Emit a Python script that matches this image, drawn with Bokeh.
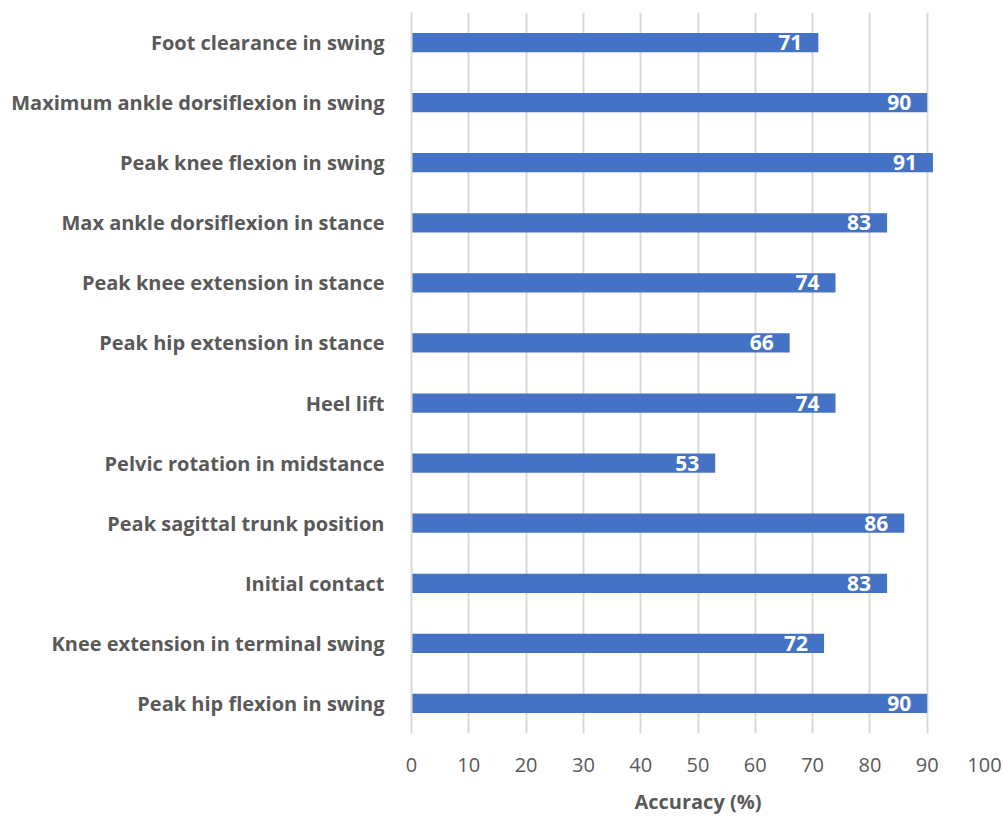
from bokeh.plotting import figure
from bokeh.models import ColumnDataSource, FactorRange, Range1d, SingleIntervalTicker
from bokeh.core.properties import value
from bokeh.embed import file_html
from bokeh.resources import INLINE

categories = [
    "Foot clearance in swing",
    "Maximum ankle dorsiflexion in swing",
    "Peak knee flexion in swing",
    "Max ankle dorsiflexion in stance",
    "Peak knee extension in stance",
    "Peak hip extension in stance",
    "Heel lift",
    "Pelvic rotation in midstance",
    "Peak sagittal trunk position",
    "Initial contact",
    "Knee extension in terminal swing",
    "Peak hip flexion in swing",
]
accuracy = [71, 90, 91, 83, 74, 66, 74, 53, 86, 83, 72, 90]
labels = [str(v) for v in accuracy]

FONT = "Open Sans"
src = ColumnDataSource(dict(cat=categories, val=accuracy, lab=labels))

p = figure(
    width=1003, height=817,
    y_range=FactorRange(factors=categories[::-1], range_padding=0),
    x_range=Range1d(0, 100),
    output_backend="svg", toolbar_location=None,
    min_border_left=411, min_border_right=19, min_border_top=12, min_border_bottom=84,
)
p.outline_line_color = None
p.background_fill_color = "white"
p.border_fill_color = "white"

p.hbar(y="cat", right="val", left=0, height=0.32, source=src,
       fill_color="#4472C4", line_color=None)
p.text(x="val", y="cat", text="lab", source=src, x_offset=-16,
       text_align="right", text_baseline="middle", text_color="white",
       text_font=value(FONT), text_font_style="bold", text_font_size="21px")

p.xaxis.ticker = SingleIntervalTicker(interval=10)
p.xgrid.grid_line_color = "#d9d9d9"
p.xgrid.grid_line_width = 2
p.ygrid.grid_line_color = None

xa = p.xaxis[0]
xa.axis_line_color = None
xa.major_tick_line_color = None
xa.minor_tick_line_color = None
xa.major_label_text_font = FONT
xa.major_label_text_font_size = "20px"
xa.major_label_text_color = "#595959"
xa.major_label_standoff = 18
xa.axis_label = "Accuracy (%)"
xa.axis_label_text_font = FONT
xa.axis_label_text_font_style = "bold"
xa.axis_label_text_font_size = "20px"
xa.axis_label_text_color = "#595959"
xa.axis_label_standoff = 13

ya = p.yaxis[0]
ya.axis_line_color = "#d9d9d9"
ya.axis_line_width = 2
ya.major_tick_line_color = None
ya.minor_tick_line_color = None
ya.major_label_text_font = FONT
ya.major_label_text_font_style = "bold"
ya.major_label_text_font_size = "20px"
ya.major_label_text_color = "#595959"
ya.major_label_standoff = 21

open("out.html", "w").write(file_html(p, INLINE))
